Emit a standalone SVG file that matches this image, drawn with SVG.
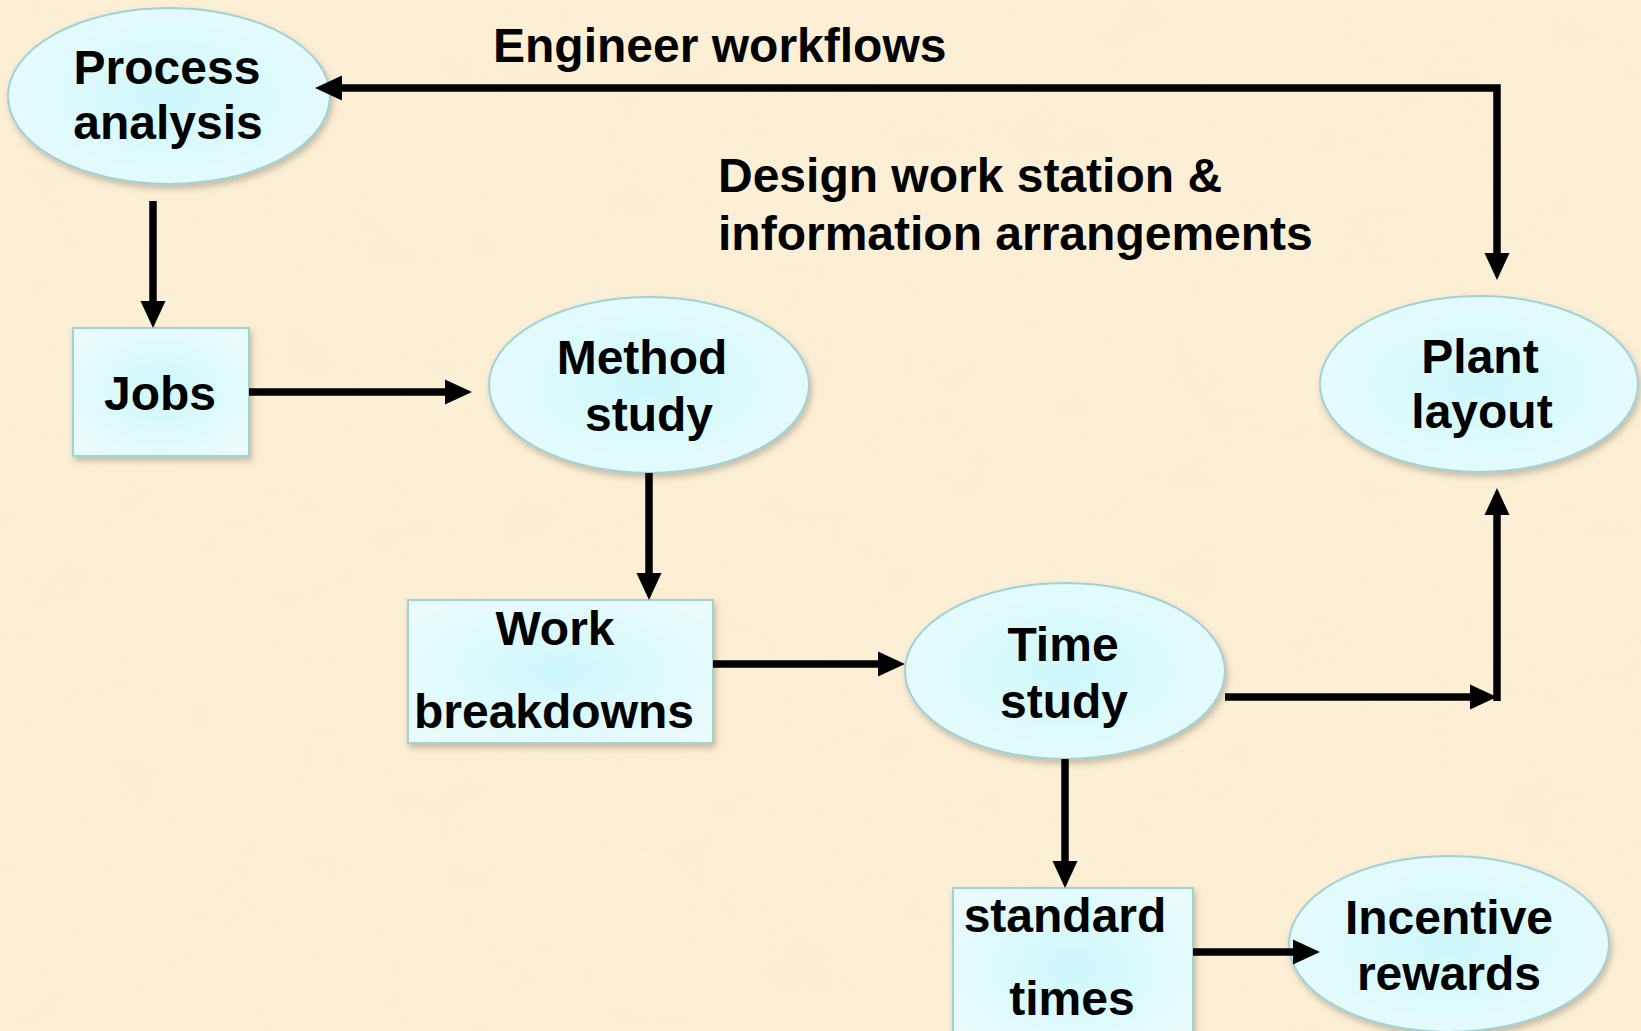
<svg xmlns="http://www.w3.org/2000/svg" width="1641" height="1031" viewBox="0 0 1641 1031">
  <defs>
    <!-- mottled parchment background -->
    <filter id="parchment" x="0" y="0" width="100%" height="100%">
      <feTurbulence type="fractalNoise" baseFrequency="0.012 0.018" numOctaves="3" seed="7" result="noise"/>
      <feColorMatrix in="noise" type="matrix"
        values="0 0 0 0 0.93
                0 0 0 0 0.85
                0 0 0 0 0.64
                0 0 0 1.4 -0.55" result="spots"/>
      <feGaussianBlur in="spots" stdDeviation="2"/>
    </filter>
    <radialGradient id="nodeFill" cx="50%" cy="50%" r="60%">
      <stop offset="0" stop-color="#cef8fc"/>
      <stop offset="1" stop-color="#e9fbfb"/>
    </radialGradient>
    <filter id="shadow" x="-10%" y="-10%" width="125%" height="130%">
      <feDropShadow dx="2" dy="4" stdDeviation="3" flood-color="#6b5a40" flood-opacity="0.35"/>
    </filter>
    <marker id="arrow" markerUnits="userSpaceOnUse" markerWidth="27" markerHeight="25"
            refX="1" refY="12.5" orient="auto-start-reverse" overflow="visible">
      <path d="M0,0 L27,12.5 L0,25 Z" fill="#000"/>
    </marker>
    <style>
      .node { fill: url(#nodeFill); stroke: #9fd3d9; stroke-width: 2; filter: url(#shadow); }
      .label { font-family: "Liberation Sans", Arial, sans-serif; font-weight: bold; font-size: 48px; fill: #000; }
      .mid { text-anchor: middle; }
      .conn { fill: none; stroke: #000; stroke-width: 7.5; stroke-linejoin: miter; }
    </style>
  </defs>

  <!-- background -->
  <rect width="1641" height="1031" fill="#fcefd6"/>
  <rect width="1641" height="1031" filter="url(#parchment)" opacity="0.6"/>

  <!-- free-standing captions -->
  <text class="label" x="493" y="62">Engineer workflows</text>
  <text class="label" x="718" y="192">Design work station &amp;</text>
  <text class="label" x="718" y="250">information arrangements</text>

  <!-- nodes -->
  <g id="process-analysis">
    <ellipse class="node" cx="169" cy="96" rx="161" ry="88"/>
    <text class="label mid" x="167" y="84">Process</text>
    <text class="label mid" x="168" y="139">analysis</text>
  </g>

  <g id="jobs">
    <rect class="node" x="73" y="328" width="176" height="128"/>
    <text class="label mid" x="160" y="410">Jobs</text>
  </g>

  <g id="method-study">
    <ellipse class="node" cx="649" cy="385" rx="160" ry="88"/>
    <text class="label mid" x="642" y="374">Method</text>
    <text class="label mid" x="649" y="431">study</text>
  </g>

  <g id="work-breakdowns">
    <rect class="node" x="408" y="600" width="305" height="143"/>
    <text class="label mid" x="555" y="645">Work</text>
    <text class="label mid" x="554" y="728">breakdowns</text>
  </g>

  <g id="time-study">
    <ellipse class="node" cx="1065" cy="671" rx="160" ry="88"/>
    <text class="label mid" x="1063" y="661">Time</text>
    <text class="label mid" x="1064" y="718">study</text>
  </g>

  <g id="plant-layout">
    <ellipse class="node" cx="1479" cy="384" rx="159" ry="88"/>
    <text class="label mid" x="1480" y="373">Plant</text>
    <text class="label mid" x="1482" y="428">layout</text>
  </g>

  <g id="standard-times">
    <rect class="node" x="953" y="888" width="240" height="160"/>
    <text class="label mid" x="1065" y="932">standard</text>
    <text class="label mid" x="1072" y="1015">times</text>
  </g>

  <g id="incentive-rewards">
    <ellipse class="node" cx="1449" cy="944" rx="160" ry="88"/>
    <text class="label mid" x="1449" y="934">Incentive</text>
    <text class="label mid" x="1449" y="990">rewards</text>
  </g>

  <!-- connectors, drawn over the node outlines -->
  <g id="connectors">
    <path class="conn" d="M341,88 H1497 V254" marker-start="url(#arrow)" marker-end="url(#arrow)"/>
    <path class="conn" d="M153,201 V302" marker-end="url(#arrow)"/>
    <path class="conn" d="M249,392 H446" marker-end="url(#arrow)"/>
    <path class="conn" d="M649,473 V574" marker-end="url(#arrow)"/>
    <path class="conn" d="M713,664 H879" marker-end="url(#arrow)"/>
    <path class="conn" d="M1225,697 H1471" marker-end="url(#arrow)"/>
    <path class="conn" d="M1497,701 V514" marker-end="url(#arrow)"/>
    <path class="conn" d="M1065,759 V862" marker-end="url(#arrow)"/>
    <path class="conn" d="M1193,952 H1294" marker-end="url(#arrow)"/>
  </g>
</svg>
